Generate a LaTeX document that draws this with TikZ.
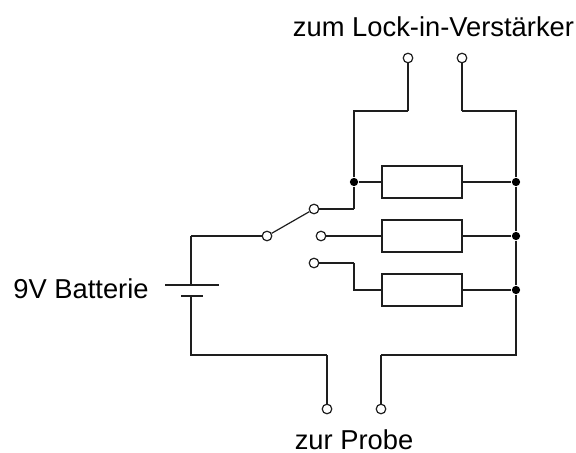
\documentclass[tikz,border=0pt]{standalone}
\usepackage{fontspec}
\setmainfont{Liberation Sans}

\begin{document}
\begin{tikzpicture}[x=0.75pt,y=0.75pt,yscale=-1,xscale=1,line width=0.9pt,color={rgb,255:red,30;green,30;blue,30},
  terminal/.style={circle,draw,fill=white,inner sep=0pt,minimum size=7.2pt},
  junction/.style={circle,fill=black,inner sep=0pt,minimum size=6.2pt},
  resistor/.style={rectangle,draw,inner sep=0pt,minimum width=60pt,minimum height=24pt},
  label/.style={anchor=base,inner sep=0.75pt,font=\fontsize{20.5}{24}\selectfont,text=black}]
\useasboundingbox (0,0) rectangle (576,453);

%Shape: Resistors
\node [resistor] (resA) at (422,182) {};
\node [resistor] (resB) at (422,236) {};
\node [resistor] (resC) at (422,290) {};

%Shape: Junctions
\node [junction] (junA) at (354,182) {};
\node [junction] (busA) at (516,182) {};
\node [junction] (busB) at (516,236) {};
\node [junction] (busC) at (516,290) {};

%Shape: Corners
\coordinate (lockAc) at (408,111);
\coordinate (lockBc) at (462,111);
\coordinate (leftc) at (354,111);
\coordinate (rightc) at (516,111);
\coordinate (contAc) at (354,209);
\coordinate (contCa) at (354,263);
\coordinate (contCb) at (354,290);
\coordinate (busc) at (516,355);
\coordinate (probeBc) at (381,355);
\coordinate (probeAc) at (327,355);
\coordinate (batBc) at (191,355);
\coordinate (batAc) at (191,236);

%Shape: Battery plates
\coordinate (plateLa) at (165,285);
\coordinate (plateLb) at (219,285);
\coordinate (plateLm) at (191,285);
\coordinate (plateSa) at (181,296);
\coordinate (plateSb) at (203,296);
\coordinate (plateSm) at (191,296);
\draw (plateLa) -- (plateLb);
\draw (plateSa) -- (plateSb);

%Shape: Wires
\draw (lockAc) -- (leftc) -- (junA);
\draw (lockBc) -- (rightc) -- (busA) -- (busB) -- (busC) -- (busc) -- (probeBc);
\draw (junA) -- (resA);
\draw (resA) -- (busA);
\draw (resB) -- (busB);
\draw (resC) -- (busC);
\draw (contAc) -- (junA);
\draw (contCa) -- (contCb) -- (resC);
\draw (plateLm) -- (batAc);
\draw (plateSm) -- (batBc) -- (probeAc);

%Shape: Terminals
\node [terminal] (lockA) at (408,58) {};
\node [terminal] (lockB) at (462,58) {};
\node [terminal] (probeA) at (327,409) {};
\node [terminal] (probeB) at (381,409) {};
\node [terminal] (swCom) at (267,236) {};
\node [terminal] (contA) at (314,209) {};
\node [terminal] (contB) at (321,236) {};
\node [terminal] (contC) at (314,263) {};

\draw (lockA) -- (lockAc);
\draw (lockB) -- (lockBc);
\draw (probeA) -- (probeAc);
\draw (probeB) -- (probeBc);
\draw (batAc) -- (swCom);
\draw (swCom) -- (contA);
\draw (contA) -- (contAc);
\draw (contB) -- (resB);
\draw (contC) -- (contCa);

% Text Node
\node [label] (lockText) at (433.5,36.5) {zum Lock-in-Verstärker};
% Text Node
\node [label] (batText) at (81,299) {9V Batterie};
% Text Node
\node [label] (probeText) at (354,449) {zur Probe};

\end{tikzpicture}
\end{document}
